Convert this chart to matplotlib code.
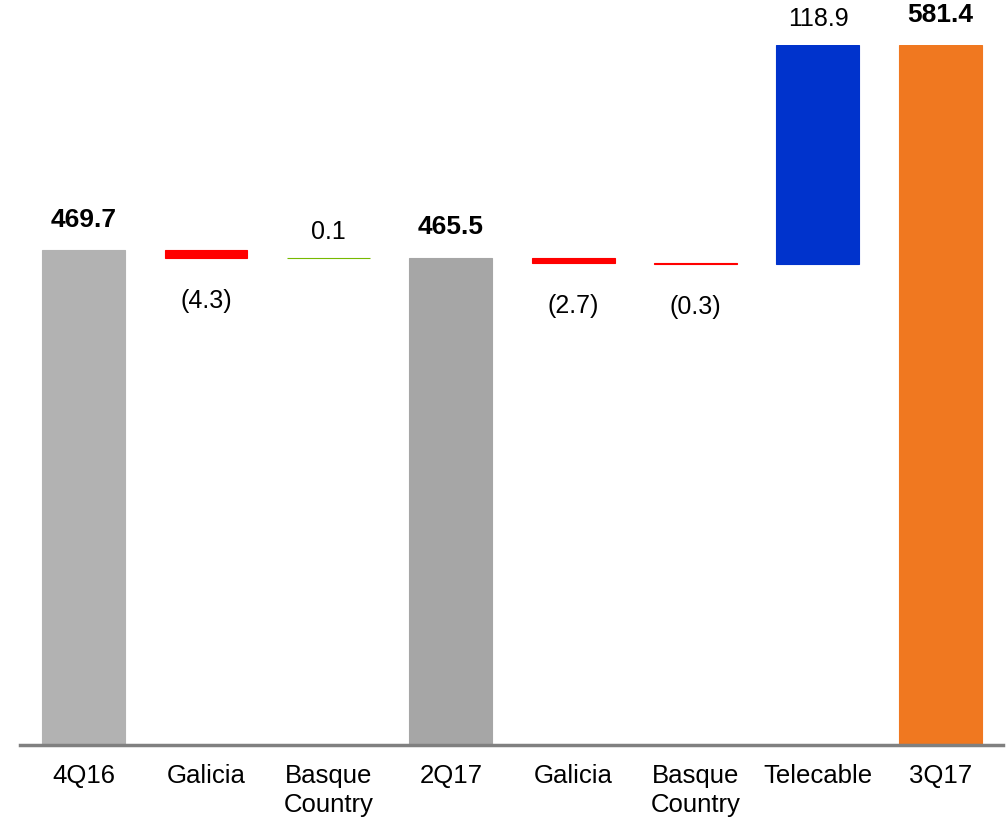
import matplotlib.pyplot as plt

plt.rcParams['font.family'] = ['Liberation Sans', 'DejaVu Sans']

# Waterfall data
categories = ['4Q16', 'Galicia', 'Basque\nCountry', '2Q17', 'Galicia', 'Basque\nCountry', 'Telecable', '3Q17']
values = [469.7, -4.3, 0.1, 465.5, -2.7, -0.3, 118.9, 581.4]
is_total = [True, False, False, True, False, False, False, True]
labels = ['469.7', '(4.3)', '0.1', '465.5', '(2.7)', '(0.3)', '118.9', '581.4']
colors = ['#b2b2b2', '#ff0000', '#77b900', '#a6a6a6', '#ff0000', '#ff0000', '#0033cc', '#f07820']

# work out the floating bottoms
bottoms, heights = [], []
running = 0
for v, tot in zip(values, is_total):
    if tot:
        bottoms.append(200)
        heights.append(v - 200)
        running = v
    else:
        bottoms.append(running if v >= 0 else running + v)
        heights.append(abs(v))
        running += v

fig = plt.figure(figsize=(10.08, 8.22), dpi=100)
ax = fig.add_axes([0.0198, 0.0937, 0.975, 0.851])

x = range(len(categories))
ax.bar(x, heights, bottom=bottoms, width=0.678, color=colors,
       edgecolor=colors, linewidth=0.8)

for i, (lab, tot) in enumerate(zip(labels, is_total)):
    top = bottoms[i] + heights[i]
    if tot:
        ax.annotate(lab, (i, top), xytext=(0, 22), textcoords='offset points',
                    ha='center', va='center', fontsize=19, fontweight='bold')
    elif values[i] >= 0:
        ax.annotate(lab, (i, top), xytext=(0, 19), textcoords='offset points',
                    ha='center', va='center', fontsize=18)
    else:
        ax.annotate(lab, (i, bottoms[i]), xytext=(0, -31), textcoords='offset points',
                    ha='center', va='center', fontsize=18)

ax.set_xlim(-0.52, 7.51)
ax.set_ylim(200, 581.4)
ax.set_xticks(list(x))
ax.set_xticklabels(categories, fontsize=18.5, linespacing=1.25)
ax.tick_params(axis='x', length=0, pad=14)
ax.set_yticks([])
for side in ['top', 'right', 'left']:
    ax.spines[side].set_visible(False)
ax.spines['bottom'].set_color('#808080')
ax.spines['bottom'].set_linewidth(2.5)

fig.savefig('out.png', dpi=100)
